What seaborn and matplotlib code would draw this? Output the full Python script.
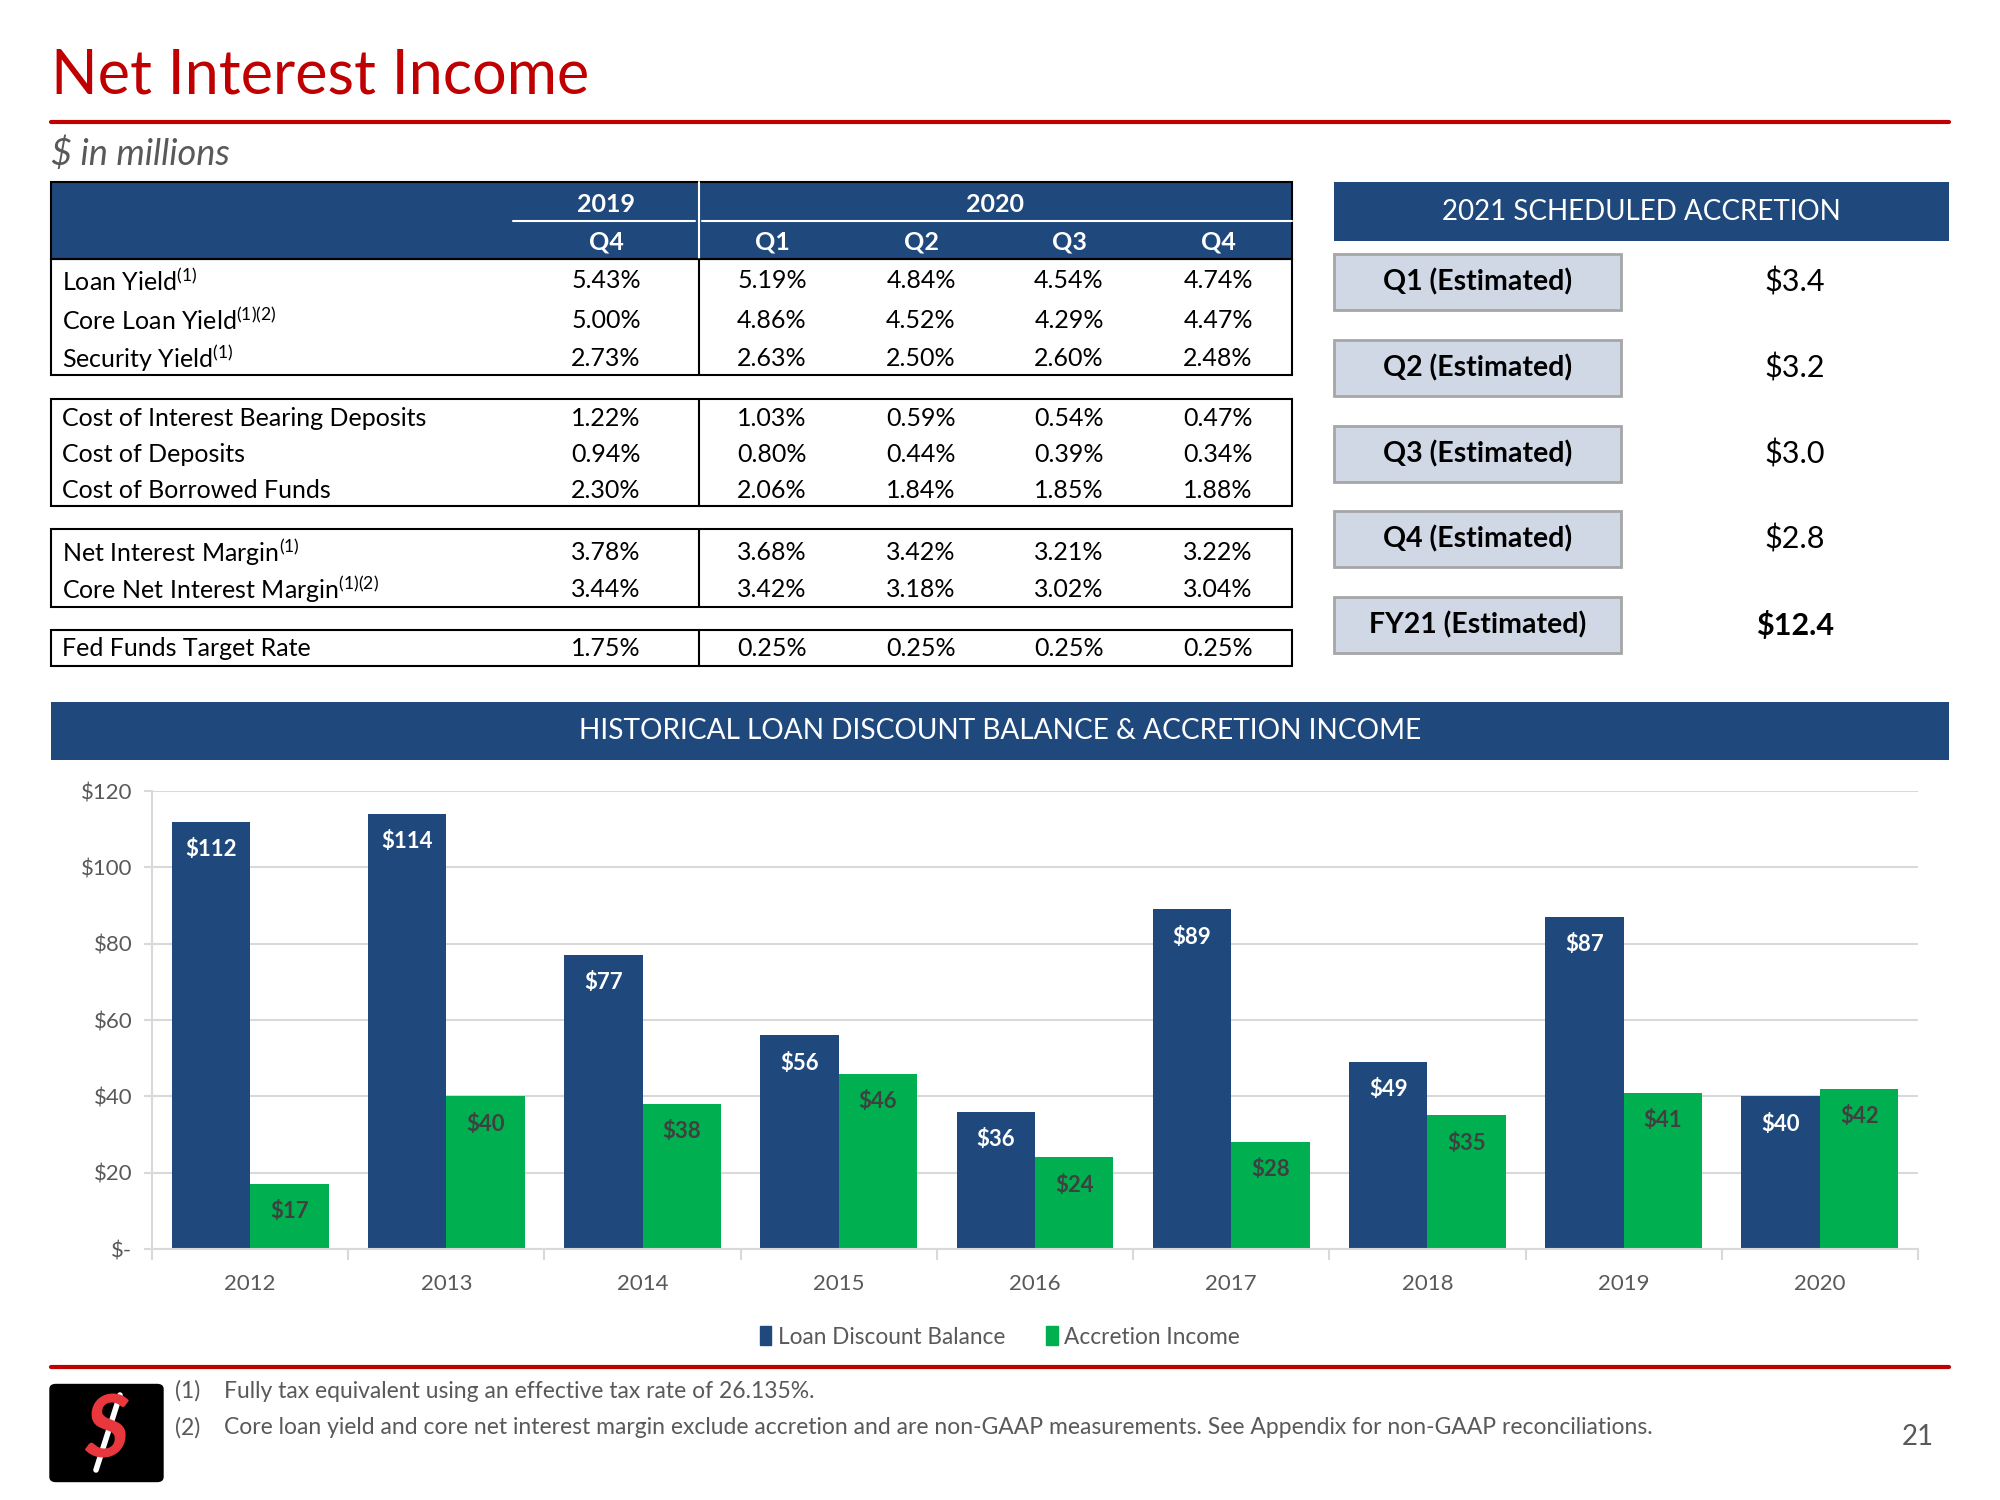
import numpy as np
import pandas as pd
import seaborn as sns
import matplotlib.pyplot as plt
from matplotlib.patches import Rectangle, FancyBboxPatch, Patch
from matplotlib.lines import Line2D

# %%
# data
quarters = ['Q4', 'Q1', 'Q2', 'Q3', 'Q4']
yield_labels = ['Loan Yield$^{\\mathrm{(1)}}$', 'Core Loan Yield$^{\\mathrm{(1)(2)}}$', 'Security Yield$^{\\mathrm{(1)}}$']
loan_yield = [5.43, 5.19, 4.84, 4.54, 4.74]
core_loan_yield = [5.00, 4.86, 4.52, 4.29, 4.47]
security_yield = [2.73, 2.63, 2.50, 2.60, 2.48]
cost_labels = ['Cost of Interest Bearing Deposits', 'Cost of Deposits', 'Cost of Borrowed Funds']
cost_ibd = [1.22, 1.03, 0.59, 0.54, 0.47]
cost_deposits = [0.94, 0.80, 0.44, 0.39, 0.34]
cost_borrowed = [2.30, 2.06, 1.84, 1.85, 1.88]
margin_labels = ['Net Interest Margin$^{\\mathrm{(1)}}$', 'Core Net Interest Margin$^{\\mathrm{(1)(2)}}$']
nim = [3.78, 3.68, 3.42, 3.21, 3.22]
core_nim = [3.44, 3.42, 3.18, 3.02, 3.04]
fed_label = ['Fed Funds Target Rate']
fed_funds = [1.75, 0.25, 0.25, 0.25, 0.25]

accretion_labels = ['Q1 (Estimated)', 'Q2 (Estimated)', 'Q3 (Estimated)', 'Q4 (Estimated)', 'FY21 (Estimated)']
accretion_sched = [3.4, 3.2, 3.0, 2.8, 12.4]

years = ['2012', '2013', '2014', '2015', '2016', '2017', '2018', '2019', '2020']
loan_discount = [112, 114, 77, 56, 36, 89, 49, 87, 40]
accretion_income = [17, 40, 38, 46, 24, 28, 35, 41, 42]

# %%
sns.set_theme(style='white')
plt.rcParams['font.family'] = ['Lato', 'DejaVu Sans']
plt.rcParams['mathtext.fontset'] = 'custom'
plt.rcParams['mathtext.rm'] = 'Lato'
plt.rcParams['mathtext.it'] = 'Lato:italic'
plt.rcParams['mathtext.bf'] = 'Lato:bold'

W, H = 2000, 1500
blue = '#1F497D'
green = '#00B050'
red = '#C00000'
grey = '#595959'

fig = plt.figure(figsize=(20, 15), dpi=100)


def fx(x):
    return x / W


def fy(y):
    return 1 - y / H


def box(x0, y0, x1, y1, **kw):
    fig.add_artist(Rectangle((fx(x0), fy(y1)), (x1 - x0) / W, (y1 - y0) / H,
                             transform=fig.transFigure, **kw))


def hline(x0, x1, y, **kw):
    fig.add_artist(Line2D([fx(x0), fx(x1)], [fy(y), fy(y)], transform=fig.transFigure, **kw))


def vline(x, y0, y1, **kw):
    fig.add_artist(Line2D([fx(x), fx(x)], [fy(y0), fy(y1)], transform=fig.transFigure, **kw))


# %%
# title area
fig.text(fx(51), fy(76), 'Net Interest Income', color=red, fontsize=44, va='center', ha='left')
hline(51, 1949, 122, color=red, lw=3)
fig.text(fx(51), fy(154), '$ in millions', color=grey, fontsize=26, style='italic', va='center')

# %%
# table
col_x = [606, 772, 921, 1069, 1218]
tfs = 18
box(51, 182, 1292, 259, facecolor=blue, edgecolor='black', lw=1.5)
vline(699, 182, 259, color='white', lw=1.5)
hline(513, 695, 221, color='white', lw=1.5)
hline(702, 1292, 221, color='white', lw=1.5)
fig.text(fx(606), fy(204), '2019', color='white', fontsize=tfs, weight='bold', ha='center', va='center')
fig.text(fx(995), fy(204), '2020', color='white', fontsize=tfs, weight='bold', ha='center', va='center')
for x, q in zip(col_x, quarters):
    fig.text(fx(x), fy(242), q, color='white', fontsize=tfs, weight='bold', ha='center', va='center')

groups = [
    (259, 375, yield_labels, [loan_yield, core_loan_yield, security_yield], [281, 320, 358]),
    (399, 506, cost_labels, [cost_ibd, cost_deposits, cost_borrowed], [418, 454, 490]),
    (529, 607, margin_labels, [nim, core_nim], [552, 589]),
    (630, 666, fed_label, [fed_funds], [649]),
]
for y0, y1, labels, rows, ys in groups:
    box(51, y0, 1292, y1, facecolor='none', edgecolor='black', lw=1.5)
    vline(699, y0, y1, color='black', lw=1.5)
    for lab, vals, y in zip(labels, rows, ys):
        fig.text(fx(62), fy(y), lab, fontsize=tfs, color='black', ha='left', va='center')
        for x, v in zip(col_x, vals):
            fig.text(fx(x), fy(y), f'{v:.2f}%', fontsize=tfs, color='black', ha='center', va='center')

# %%
# 2021 scheduled accretion panel
box(1334, 182, 1949, 241, facecolor=blue, edgecolor='none')
fig.text(fx(1641), fy(212), '2021 SCHEDULED ACCRETION', color='white', fontsize=20, ha='center', va='center')
panel_y = [282, 368, 454, 539, 625]
for lab, v, y in zip(accretion_labels, accretion_sched, panel_y):
    box(1334, y - 28, 1621, y + 28, facecolor='#D0D8E6', edgecolor='#A6A6A6', lw=2)
    fig.text(fx(1478), fy(y), lab, fontsize=20.5, weight='bold', color='black', ha='center', va='center')
    bold = 'bold' if lab.startswith('FY') else 'normal'
    fig.text(fx(1795), fy(y), f'${v:.1f}', fontsize=22, weight=bold, color='black', ha='center', va='center')

# %%
# historical chart banner
box(51, 702, 1949, 760, facecolor=blue, edgecolor='none')
fig.text(fx(1000), fy(731), 'HISTORICAL LOAN DISCOUNT BALANCE & ACCRETION INCOME', color='white',
         fontsize=20.2, ha='center', va='center')

# %%
# bar chart
df = pd.DataFrame({'Year': years * 2,
                   'Value': loan_discount + accretion_income,
                   'Series': ['Loan Discount Balance'] * len(years) + ['Accretion Income'] * len(years)})
ax = fig.add_axes([0.076, 0.1673, 0.883, 0.3053])
sns.barplot(data=df, x='Year', y='Value', hue='Series', palette=[blue, green], ax=ax,
            width=0.8, gap=0, saturation=1, legend=False, linewidth=0)
ax.set_ylim(0, 120)
ax.set_xlim(-0.5, len(years) - 0.5)
ax.set_yticks(np.arange(0, 121, 20))
ax.set_yticklabels(['$-'] + [f'${v}' for v in range(20, 121, 20)])
ax.set_xlabel('')
ax.set_ylabel('')
ax.yaxis.grid(True, color='#D9D9D9', lw=1.5)
ax.set_axisbelow(True)
for s in ['top', 'right']:
    ax.spines[s].set_visible(False)
ax.spines['left'].set_color('#D9D9D9')
ax.spines['bottom'].set_color('#D9D9D9')
ax.spines['left'].set_linewidth(1.5)
ax.spines['bottom'].set_linewidth(1.5)
ax.set_xticks(np.arange(-0.5, len(years), 1), minor=True)
ax.tick_params(axis='x', which='major', length=0, labelsize=16, labelcolor=grey, pad=18)
ax.tick_params(axis='x', which='minor', length=8, width=1.5, color='#D9D9D9', direction='out', bottom=True)
ax.tick_params(axis='y', length=6, width=1.5, color='#D9D9D9', labelsize=16, labelcolor=grey, left=True, pad=8)

label_colors = ['white', '#404040']
for cont, col in zip(ax.containers, label_colors):
    for rect in cont:
        h = rect.get_height()
        ax.annotate(f'${h:.0f}', (rect.get_x() + rect.get_width() / 2, h), xytext=(0, -20),
                    textcoords='offset points', ha='center', va='center', color=col,
                    fontsize=16, weight='bold')

handles = [Patch(color=blue, label='Loan Discount Balance'), Patch(color=green, label='Accretion Income')]
fig.legend(handles=handles, loc='center', bbox_to_anchor=(0.5, fy(1337)), ncol=2, frameon=False,
           handlelength=0.5, handleheight=0.9, handletextpad=0.3, columnspacing=1.8,
           fontsize=16.3, labelcolor=grey)

# %%
# footer
hline(51, 1949, 1367, color=red, lw=3)
fig.text(fx(175), fy(1391), '(1)', fontsize=16.5, color=grey, va='center')
fig.text(fx(224), fy(1391), 'Fully tax equivalent using an effective tax rate of 26.135%.', fontsize=16.5, color=grey, va='center')
fig.text(fx(175), fy(1428), '(2)', fontsize=16.5, color=grey, va='center')
fig.text(fx(224), fy(1428), 'Core loan yield and core net interest margin exclude accretion and are non-GAAP measurements. '
         'See Appendix for non-GAAP reconciliations.', fontsize=16.5, color=grey, va='center')
fig.text(fx(1918), fy(1437), '21', fontsize=20, color=grey, ha='center', va='center')

# logo
fig.add_artist(FancyBboxPatch((fx(56), fy(1477)), 101 / W, 88 / H, boxstyle='round,pad=0.003',
                              transform=fig.transFigure, facecolor='black', edgecolor='black'))
fig.text(fx(106), fy(1433), 'S', fontsize=62, weight='bold', style='italic', color='#E8383D',
         ha='center', va='center')
fig.add_artist(Line2D([fx(96), fx(120)], [fy(1470), fy(1395)], transform=fig.transFigure, color='white', lw=4))

fig.savefig('out.png', dpi=100)
